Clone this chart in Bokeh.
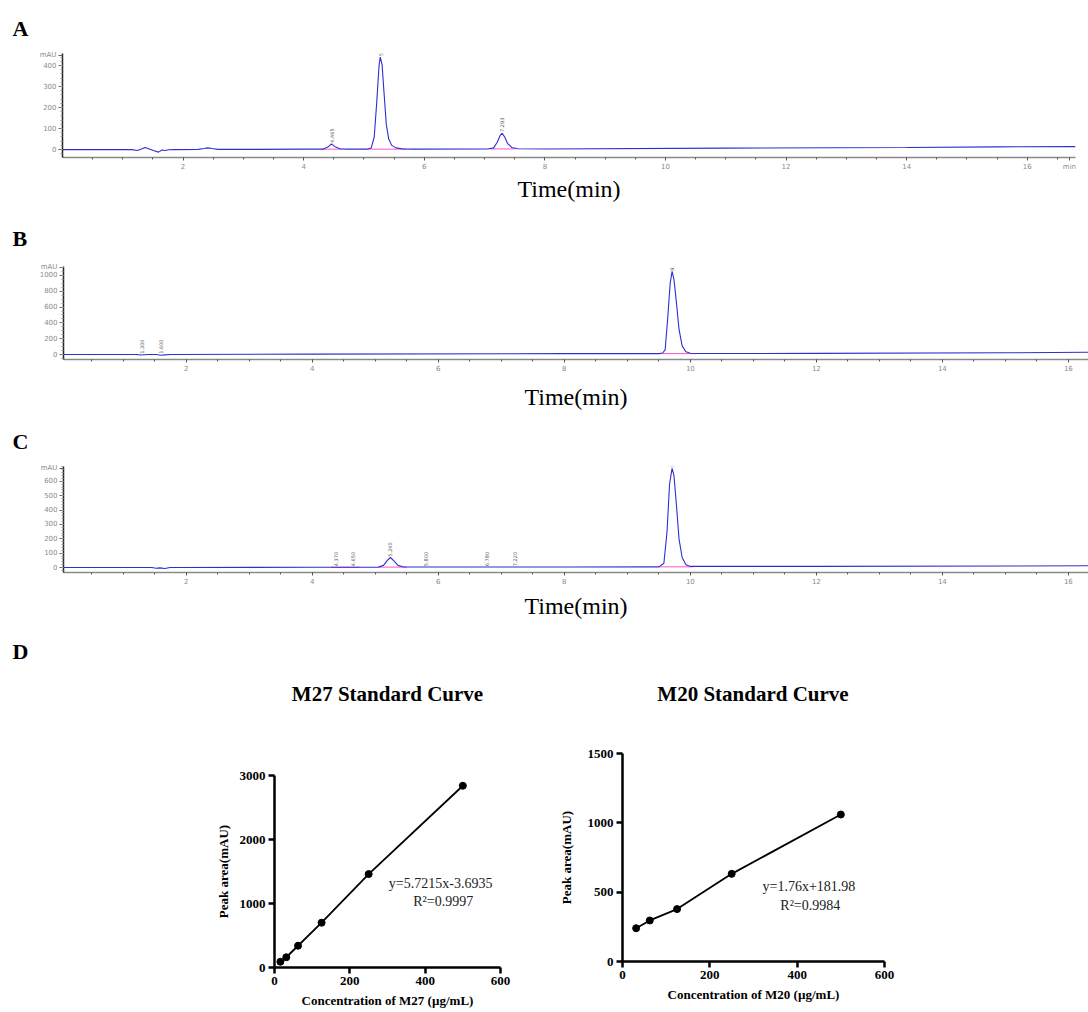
import math
from bokeh.plotting import figure
from bokeh.models import FixedTicker, Range1d
from bokeh.layouts import column, row
from bokeh.embed import file_html
from bokeh.resources import INLINE
from bokeh.core.properties import value

# ---------------- data ----------------
# Panel A chromatogram (time in min, signal in mAU)
a_time = [0.0, 1.15, 1.24, 1.30, 1.37, 1.44, 1.52, 1.59, 1.65, 1.70, 1.76, 1.85,
          2.25, 2.35, 2.41, 2.48, 2.58, 3.0, 4.0, 4.32, 4.40, 4.46, 4.52, 4.60, 4.70,
          5.05, 5.12, 5.17, 5.21, 5.25, 5.27, 5.30, 5.33, 5.37, 5.41, 5.46, 5.53, 5.65, 5.8,
          7.05, 7.15, 7.21, 7.26, 7.29, 7.33, 7.38, 7.45, 7.55, 8.0, 11.0, 14.0, 15.5, 16.8]
a_signal = [0, 0, -4, 2, 10, 3, -6, -12, -2, -4, -1, 0,
            1, 5, 8, 5, 1, 1, 2, 2, 12, 27, 14, 4, 2,
            2, 8, 60, 220, 400, 440, 405, 280, 120, 50, 20, 8, 3, 2,
            3, 8, 35, 68, 78, 62, 30, 10, 4, 3, 7, 10, 13, 14]
a_peak_time = [4.465, 5.274, 7.293]
a_peak_height = [27, 440, 78]
a_integ_start = [4.30, 5.05, 7.10]
a_integ_end = [4.65, 5.70, 7.50]
a_integ_level = [2, 2, 3]

# Panel B chromatogram
b_time = [0.05, 1.2, 1.28, 1.33, 1.4, 1.52, 1.60, 1.66, 1.75, 4.0, 8.0,
          9.50, 9.56, 9.60, 9.64, 9.68, 9.71, 9.74, 9.78, 9.82, 9.87, 9.93, 10.0, 10.1,
          12.0, 15.0, 16.32]
b_signal = [0, 0, -6, -3, 0, 0, -8, -4, 0, 5, 12,
            12, 20, 60, 450, 900, 1050, 950, 650, 320, 110, 35, 16, 13,
            15, 22, 30]
b_peak_time = [1.300, 1.600, 9.710]
b_peak_height = [0, 0, 1050]
b_integ_start = [9.50]
b_integ_end = [10.10]
b_integ_level = [12]

# Panel C chromatogram
c_time = [0.05, 1.45, 1.52, 1.58, 1.66, 1.74, 1.85, 4.0, 5.05, 5.13, 5.19, 5.24, 5.29,
          5.36, 5.45, 8.0, 9.50, 9.58, 9.63, 9.67, 9.71, 9.74, 9.78, 9.82, 9.87, 9.93,
          10.0, 12.0, 16.32]
c_signal = [0, 0, -5, -2, -7, 0, 0, 2, 3, 15, 50, 70, 48,
            15, 4, 4, 5, 30, 250, 580, 690, 640, 430, 200, 70, 20,
            8, 8, 12]
c_peak_time = [4.370, 4.650, 5.240, 5.800, 6.780, 7.220, 9.710]
c_peak_height = [3, 3, 70, 3, 3, 3, 690]
c_integ_start = [4.30, 5.05, 9.50]
c_integ_end = [4.75, 5.50, 10.05]
c_integ_level = [2, 3, 5]

# Panel D standard curves
m27_conc = [15.625, 31.25, 62.5, 125, 250, 500]
m27_area = [90, 160, 340, 700, 1460, 2840]
m20_conc = [31.25, 62.5, 125, 250, 500]
m20_area = [240, 296, 378, 632, 1060]
m27_equation = ["y=5.7215x-3.6935", "R\u00b2=0.9997"]
m20_equation = ["y=1.76x+181.98", "R\u00b2=0.9984"]

x_major = [2, 4, 6, 8, 10, 12, 14, 16]
x_minor = [0.5 * i for i in range(1, 34)]

SERIF = "Liberation Serif"
TRACE = "#2f2fd0"
PAGE_W = 1088


def base_fig(width, height, xr, yr, borders, title=None):
    bl, br, bt, bb = borders
    p = figure(width=width, height=height, x_range=Range1d(*xr), y_range=Range1d(*yr),
               output_backend="svg", toolbar_location=None, title=title,
               min_border_left=bl, min_border_right=br,
               min_border_top=bt, min_border_bottom=bb)
    p.frame_align = False
    p.outline_line_color = None
    p.grid.visible = False
    p.background_fill_color = "white"
    p.border_fill_color = "white"
    return p


def chromatogram(letter, t, s, pk_t, pk_h, i0, i1, ilev, xr, yr, yint, ysub, mau_tick,
                 min_tick, height, borders, lab_standoff, letter_dx, letter_standoff, label_pad):
    p = base_fig(PAGE_W, height, xr, yr, borders, title=letter)
    tt = p.title
    tt.text_font = SERIF
    tt.text_font_style = "bold"
    tt.text_font_size = "22px"
    tt.text_color = "black"
    tt.align = "left"
    tt.offset = letter_dx
    tt.standoff = letter_standoff

    # integration baselines
    p.segment(x0=i0, y0=ilev, x1=i1, y1=ilev, line_color="#ff55cc", line_width=1)
    # trace
    p.line(t, s, line_color=TRACE, line_width=1.1)
    # peak labels
    labels = ["%.3f" % v for v in pk_t]
    ly = [h + label_pad for h in pk_h]
    p.text(x=pk_t, y=ly, text=labels, angle=math.pi / 2,
           text_font=value("DejaVu Sans"), text_font_size="5px",
           text_color="#555555", text_align="left", text_baseline="middle")

    ymaj = list(range(0, int(yr[1]) - yint // 3, yint)) + [mau_tick]
    ymin = [v * yint / ysub for v in range(int(yr[0] * ysub / yint), int(yr[1] * ysub / yint) + 1)]
    p.yaxis.ticker = FixedTicker(ticks=ymaj, minor_ticks=ymin)
    p.yaxis.major_label_overrides = {mau_tick: "mAU"}
    xmaj = list(x_major)
    if min_tick is not None:
        xmaj.append(min_tick)
        p.xaxis.major_label_overrides = {min_tick: "min"}
    p.xaxis.ticker = FixedTicker(ticks=xmaj, minor_ticks=x_minor)

    for ax in (p.xaxis, p.yaxis):
        ax.major_label_text_font = "DejaVu Sans"
        ax.major_label_text_font_size = "7px"
        ax.major_label_text_color = "#8a8a8a"
        ax.major_tick_in = 0
        ax.minor_tick_in = 0
        ax.major_label_standoff = 2
    p.yaxis.axis_line_color = "#222222"
    p.yaxis.axis_line_width = 1.5
    p.yaxis.major_tick_out = 4
    p.yaxis.minor_tick_out = 2
    p.yaxis.major_tick_line_color = "#666666"
    p.yaxis.minor_tick_line_color = "#999999"
    p.xaxis.axis_line_color = "#8a8a8a"
    p.xaxis.axis_line_width = 1.5
    p.xaxis.major_tick_out = 3
    p.xaxis.minor_tick_out = 2
    p.xaxis.major_tick_line_color = "#555555"
    p.xaxis.minor_tick_line_color = "#555555"

    p.xaxis.axis_label = "Time(min)"
    p.xaxis.axis_label_text_font = SERIF
    p.xaxis.axis_label_text_font_style = "normal"
    p.xaxis.axis_label_text_font_size = "24px"
    p.xaxis.axis_label_text_color = "black"
    p.xaxis.axis_label_standoff = lab_standoff
    return p


#                      left, right, top, bottom
pA = chromatogram("A", a_time, a_signal, a_peak_time, a_peak_height,
                  a_integ_start, a_integ_end, a_integ_level,
                  (0.0, 16.8), (-37.7, 457.5), 100, 5, 450, 16.7,
                  207, (62, 13, 52, 50), 2, -50, 26, 6)
pB = chromatogram("B", b_time, b_signal, b_peak_time, b_peak_height,
                  b_integ_start, b_integ_end, b_integ_level,
                  (0.05, 16.32), (-62.5, 1112.5), 200, 4, 1100, None,
                  206, (63, 0, 58, 54), 10, -51, 32, 10)
pC = chromatogram("C", c_time, c_signal, c_peak_time, c_peak_height,
                  c_integ_start, c_integ_end, c_integ_level,
                  (0.05, 16.32), (-34.5, 703.4), 100, 5, 690, None,
                  215, (63, 0, 52, 56), 6, -51, 26, 6)


def curve(conc, area, xmax, ymax, yticks, width, height, borders,
          xlabel, ylabel_standoff, eq_text, eq_x, eq_y):
    p = base_fig(width, height, (0, xmax), (0, ymax), borders)
    p.line(conc, area, line_color="black", line_width=1.8)
    p.scatter(conc, area, size=7, color="black")

    p.xaxis.ticker = FixedTicker(ticks=[0, 200, 400, 600])
    p.yaxis.ticker = FixedTicker(ticks=yticks)
    for ax in (p.xaxis, p.yaxis):
        ax.axis_line_width = 2.5
        ax.axis_line_color = "black"
        ax.major_tick_line_width = 2.5
        ax.major_tick_out = 6
        ax.major_tick_in = 0
        ax.minor_tick_line_color = None
        ax.major_label_text_font = SERIF
        ax.major_label_text_font_style = "bold"
        ax.major_label_text_font_size = "13px"
        ax.major_label_text_color = "black"
        ax.major_label_standoff = 3
        ax.axis_label_text_font = SERIF
        ax.axis_label_text_font_style = "bold"
        ax.axis_label_text_font_size = "13px"
        ax.axis_label_text_color = "black"
    p.xaxis.axis_label = xlabel
    p.xaxis.axis_label_standoff = 5
    p.yaxis.axis_label = "Peak area(mAU)"
    p.yaxis.axis_label_standoff = ylabel_standoff

    p.text(x=eq_x, y=eq_y, text=eq_text,
           text_font=value(SERIF), text_font_size="14px", text_color="#222222",
           text_align="center", text_baseline="middle")
    return p


D_H = 292
pD1 = curve(m27_conc, m27_area, 600, 3000, [0, 1000, 2000, 3000],
            555, D_H, (274, 55, 55, 45),
            "Concentration of M27 (\u00b5g/mL)", 6,
            m27_equation, [441, 448], [1312, 1031])
pD2 = curve(m20_conc, m20_area, 600, 1500, [0, 500, 1000, 1500],
            533, D_H, (66, 204, 33, 51),
            "Concentration of M20 (\u00b5g/mL)", 11,
            m20_equation, [427, 430], [541, 404])

# header row of panel D (letter and the two curve titles), in pixel units
HEAD_H = 92
d1_center = 274 + 226 / 2
d2_center = 555 + 66 + 263 / 2
head = figure(width=PAGE_W, height=HEAD_H, x_range=Range1d(0, PAGE_W), y_range=Range1d(0, HEAD_H),
              output_backend="svg", toolbar_location=None,
              min_border_left=0, min_border_right=0, min_border_top=0, min_border_bottom=0)
head.frame_align = False
head.axis.visible = False
head.grid.visible = False
head.outline_line_color = None
head.text(x=[12], y=[HEAD_H - 23], text=["D"], text_font=value(SERIF),
          text_font_style="bold", text_font_size="22px", text_color="black",
          text_align="left", text_baseline="middle")
head.text(x=[d1_center, d2_center], y=[HEAD_H - 65, HEAD_H - 65],
          text=["M27 Standard Curve", "M20 Standard Curve"], text_font=value(SERIF),
          text_font_style="bold", text_font_size="21px", text_color="black",
          text_align="center", text_baseline="middle")

layout = column(pA, pB, pC, head, row(pD1, pD2))

open("out.html", "w").write(file_html(layout, INLINE))
